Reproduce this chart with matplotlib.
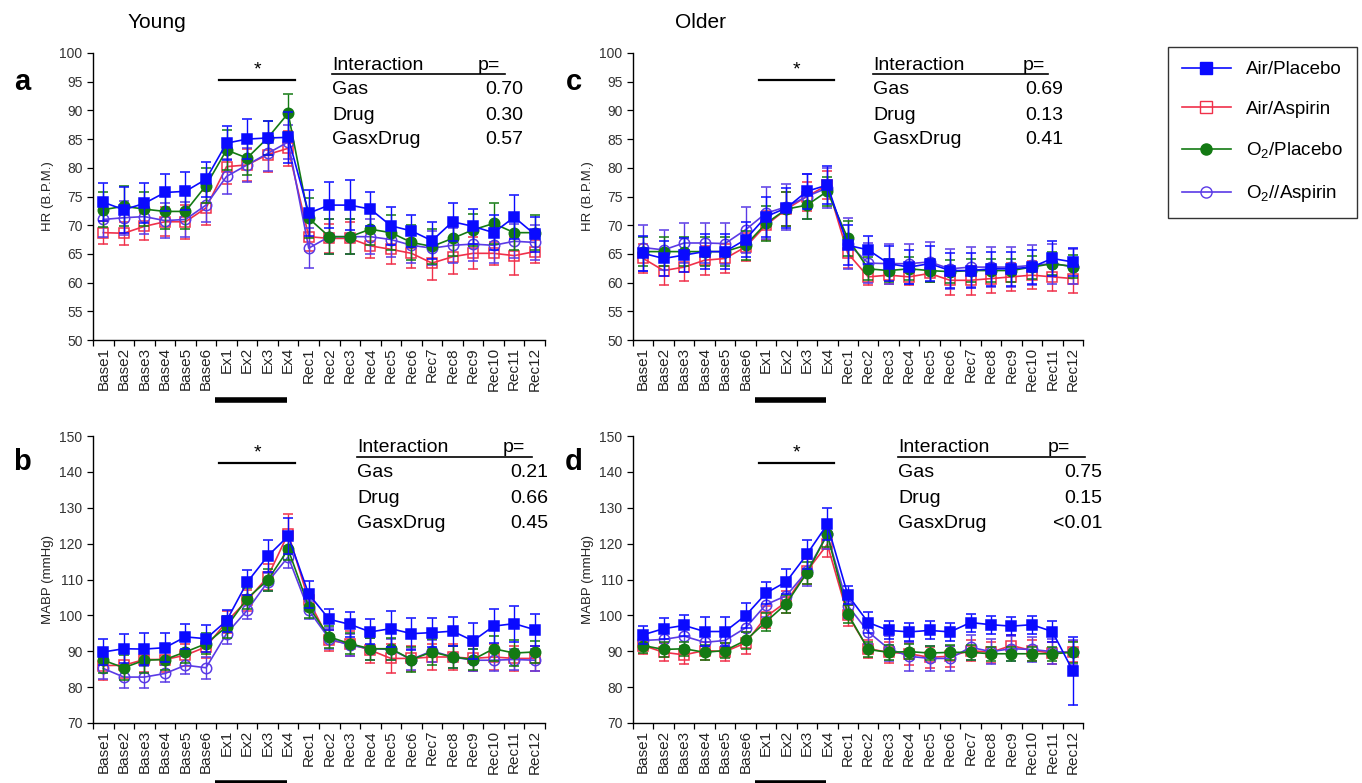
import matplotlib
matplotlib.use("Agg")
import matplotlib.pyplot as plt
from matplotlib.lines import Line2D
import numpy as np

plt.rcParams['font.family'] = ['Liberation Sans', 'DejaVu Sans']
plt.rcParams['mathtext.fontset'] = 'custom'
plt.rcParams['mathtext.rm'] = 'Liberation Sans'

categories = ['Base1', 'Base2', 'Base3', 'Base4', 'Base5', 'Base6',
              'Ex1', 'Ex2', 'Ex3', 'Ex4',
              'Rec1', 'Rec2', 'Rec3', 'Rec4', 'Rec5', 'Rec6', 'Rec7', 'Rec8',
              'Rec9', 'Rec10', 'Rec11', 'Rec12']

series_names = ['Air/Placebo', 'Air/Aspirin', r'O$_\mathregular{2}$/Placebo', r'O$_\mathregular{2}$//Aspirin']

# ---- Panel a: HR young ----
ap_a = [74.0, 72.7, 73.8, 75.7, 75.9, 78.0, 84.3, 85.0, 85.2, 85.3, 72.1, 73.5, 73.5, 72.8, 69.9, 69.0, 67.3, 70.6, 69.8, 68.7, 71.4, 68.4]
ap_a_err = [3.3, 4.0, 3.5, 3.3, 3.3, 3.0, 3.0, 3.5, 3.0, 4.5, 4.0, 4.0, 4.3, 3.0, 3.3, 2.8, 3.2, 3.3, 3.0, 3.0, 3.8, 3.0]
aa_a = [68.7, 68.6, 69.8, 70.6, 70.6, 73.0, 80.2, 80.5, 82.3, 83.4, 68.0, 67.7, 67.7, 66.4, 65.8, 65.1, 63.4, 64.5, 65.1, 65.1, 64.7, 65.4]
aa_a_err = [2.0, 2.0, 2.3, 2.5, 3.0, 3.0, 3.0, 2.8, 3.0, 3.0, 2.5, 2.5, 2.8, 2.2, 2.5, 2.5, 3.0, 3.0, 2.8, 2.0, 3.3, 2.0]
op_a = [72.7, 73.3, 72.8, 72.4, 72.4, 76.9, 83.1, 81.7, 85.2, 89.5, 71.2, 68.0, 68.0, 69.3, 68.7, 67.0, 66.3, 67.7, 69.2, 70.3, 68.7, 68.7]
op_a_err = [3.0, 3.5, 3.0, 3.0, 3.0, 3.0, 3.5, 3.0, 3.0, 3.3, 3.5, 3.0, 3.0, 2.8, 3.0, 3.0, 3.0, 3.0, 2.8, 3.5, 3.0, 3.0]
oa_a = [71.0, 71.3, 71.5, 70.8, 71.0, 73.5, 78.5, 80.5, 82.5, 84.5, 66.0, 68.0, 68.0, 68.0, 67.5, 66.5, 66.0, 66.5, 66.7, 66.5, 67.2, 67.0]
oa_a_err = [3.0, 3.0, 3.0, 3.0, 3.0, 3.0, 3.0, 3.0, 3.0, 3.0, 3.5, 3.0, 3.0, 3.0, 3.0, 3.0, 3.0, 3.0, 3.0, 3.0, 3.0, 3.0]

# ---- Panel b: MABP young ----
ap_b = [89.8, 90.7, 90.6, 91.0, 94.0, 93.5, 98.5, 109.2, 116.5, 122.1, 105.9, 98.9, 97.5, 95.4, 96.3, 94.9, 95.2, 95.6, 92.9, 97.0, 97.7, 96.0]
ap_b_err = [3.5, 4.0, 4.5, 4.0, 3.5, 3.8, 3.0, 3.5, 4.5, 5.0, 3.8, 3.0, 3.5, 3.5, 5.0, 4.5, 4.0, 4.0, 5.0, 4.8, 5.0, 4.5]
aa_b = [86.0, 86.1, 87.7, 87.7, 88.9, 91.2, 98.2, 104.2, 110.7, 122.8, 104.2, 93.0, 92.1, 90.3, 88.0, 88.0, 88.4, 88.4, 88.0, 88.4, 88.0, 88.0]
aa_b_err = [4.0, 3.5, 3.5, 3.5, 3.0, 3.0, 3.0, 3.0, 3.5, 5.5, 3.0, 3.0, 3.5, 3.5, 4.0, 3.5, 3.5, 3.5, 3.5, 3.5, 3.5, 3.5]
op_b = [87.5, 85.4, 87.5, 87.7, 89.8, 92.1, 96.8, 104.7, 109.8, 118.4, 102.4, 94.0, 92.1, 90.7, 90.7, 87.7, 89.8, 88.4, 87.7, 90.7, 89.5, 89.8]
op_b_err = [3.5, 3.5, 3.5, 3.0, 3.0, 3.0, 3.0, 3.0, 3.0, 3.0, 3.0, 3.0, 3.0, 3.0, 3.0, 3.5, 3.5, 3.0, 3.0, 3.5, 3.5, 3.0]
oa_b = [85.2, 82.8, 82.8, 83.8, 86.1, 85.4, 94.9, 101.4, 109.3, 116.3, 101.4, 93.5, 91.7, 90.7, 90.5, 87.7, 90.1, 88.4, 87.5, 87.5, 87.7, 87.5]
oa_b_err = [3.0, 3.0, 3.0, 2.5, 2.5, 3.0, 3.0, 2.5, 2.5, 3.0, 2.5, 3.0, 3.0, 3.0, 3.0, 3.0, 3.0, 3.0, 3.0, 3.0, 3.0, 3.0]

# ---- Panel c: HR older ----
ap_c = [65.1, 64.2, 64.8, 65.4, 65.4, 67.5, 71.5, 73.0, 75.9, 77.0, 66.5, 65.7, 63.3, 62.7, 63.3, 62.1, 62.1, 62.4, 62.4, 62.7, 64.2, 63.6]
ap_c_err = [3.0, 3.0, 3.0, 3.0, 3.0, 3.0, 3.5, 3.5, 3.0, 3.3, 3.5, 2.5, 3.0, 3.0, 3.0, 3.0, 3.0, 3.0, 3.0, 3.0, 3.0, 2.5]
aa_c = [64.2, 62.1, 62.7, 63.9, 64.2, 66.2, 70.0, 72.8, 75.0, 77.0, 65.1, 61.0, 61.3, 61.0, 61.6, 60.4, 60.4, 60.7, 61.0, 61.3, 61.0, 60.7]
aa_c_err = [2.5, 2.5, 2.5, 2.5, 2.5, 2.5, 2.5, 3.0, 2.5, 2.5, 2.5, 1.5, 1.5, 1.5, 1.5, 2.5, 2.5, 2.5, 2.5, 2.5, 2.5, 2.5]
op_c = [65.4, 65.4, 65.4, 65.4, 65.4, 66.5, 70.3, 72.8, 73.5, 75.9, 67.7, 62.4, 62.1, 62.4, 62.1, 61.9, 62.1, 62.1, 62.1, 62.7, 63.3, 62.8]
op_c_err = [2.5, 2.5, 2.5, 2.5, 2.5, 2.5, 3.0, 3.0, 2.5, 2.5, 3.0, 2.0, 2.0, 2.0, 2.0, 2.0, 2.0, 2.0, 2.0, 2.0, 2.0, 2.0]
oa_c = [66.1, 65.7, 66.9, 66.9, 66.8, 69.2, 72.1, 73.2, 75.0, 76.5, 66.8, 63.4, 63.3, 63.3, 63.6, 62.4, 62.7, 62.7, 62.7, 63.0, 63.3, 62.8]
oa_c_err = [4.0, 3.5, 3.5, 3.5, 3.5, 4.0, 4.5, 4.0, 4.0, 3.5, 4.5, 3.5, 3.5, 3.5, 3.5, 3.5, 3.5, 3.5, 3.5, 3.5, 3.5, 3.0]

# ---- Panel d: MABP older ----
ap_d = [94.6, 96.3, 97.2, 95.5, 95.5, 99.9, 106.2, 109.4, 117.0, 125.4, 105.7, 98.0, 95.8, 95.4, 95.8, 95.4, 98.0, 97.4, 97.0, 97.4, 95.5, 84.6]
ap_d_err = [2.5, 3.0, 3.0, 4.0, 4.0, 3.5, 3.0, 3.5, 4.0, 4.5, 2.5, 3.0, 2.5, 2.5, 2.5, 2.5, 2.5, 2.5, 2.5, 2.5, 3.0, 9.5]
aa_d = [91.6, 89.7, 89.0, 90.2, 89.9, 92.3, 99.6, 103.8, 112.3, 119.8, 100.0, 90.7, 89.7, 89.3, 88.3, 88.6, 90.2, 89.7, 91.6, 90.2, 89.5, 89.9]
aa_d_err = [2.5, 2.5, 2.5, 2.5, 2.5, 3.0, 3.0, 3.0, 3.5, 3.5, 3.0, 2.5, 3.0, 3.0, 3.0, 3.0, 3.0, 3.0, 3.0, 3.0, 3.0, 3.0]
op_d = [91.6, 90.5, 90.7, 89.7, 90.2, 93.0, 98.2, 103.3, 111.8, 122.6, 100.5, 90.5, 89.7, 89.9, 89.5, 89.7, 89.7, 89.3, 89.3, 89.3, 89.3, 89.7]
op_d_err = [2.0, 2.0, 2.0, 2.0, 2.0, 2.5, 2.5, 2.5, 3.0, 3.5, 2.5, 2.0, 2.0, 2.0, 2.0, 2.0, 2.0, 2.0, 2.0, 2.0, 2.0, 3.0]
oa_d = [93.0, 93.3, 94.2, 92.5, 93.0, 96.5, 103.0, 105.5, 112.3, 122.6, 102.7, 95.4, 90.7, 88.6, 88.0, 88.0, 91.1, 89.9, 90.7, 90.5, 89.9, 89.7]
oa_d_err = [2.5, 3.0, 3.0, 3.0, 3.0, 3.0, 3.5, 3.5, 4.0, 4.0, 3.5, 3.5, 3.5, 4.0, 3.5, 3.5, 3.5, 3.5, 3.5, 3.5, 3.5, 3.5]

stats_a = [('Gas', '0.70'), ('Drug', '0.30'), ('GasxDrug', '0.57')]
stats_b = [('Gas', '0.21'), ('Drug', '0.66'), ('GasxDrug', '0.45')]
stats_c = [('Gas', '0.69'), ('Drug', '0.13'), ('GasxDrug', '0.41')]
stats_d = [('Gas', '0.75'), ('Drug', '0.15'), ('GasxDrug', '<0.01')]

colors = ['#0a0aff', '#f0304a', '#137a13', '#5a3ae6']
markers = ['s', 's', 'o', 'o']
faces = ['#0a0aff', 'none', '#137a13', 'none']
zorders = [6, 3, 5, 4]

W, H = 1362, 783
fig = plt.figure(figsize=(W / 100, H / 100), dpi=100)


def ax_rect(left, top, right, bottom):
    return [left / W, 1 - bottom / H, (right - left) / W, (bottom - top) / H]


def draw_panel(rect, series, errs, ylim, ystep, ylabel, stats, tx, ty, val_x, p_x, line_end):
    ax = fig.add_axes(rect)
    x = np.arange(len(categories))
    for i, (vals, er) in enumerate(zip(series, errs)):
        ax.errorbar(x, vals, yerr=er, color=colors[i], marker=markers[i],
                    markerfacecolor=faces[i], markeredgecolor=colors[i],
                    markersize=7.5, markeredgewidth=1.1, linewidth=1.2,
                    elinewidth=1.0, capsize=3.5, capthick=1.0, zorder=zorders[i])
    ax.set_xlim(-0.5, len(categories) - 0.5)
    ax.set_ylim(*ylim)
    ax.set_yticks(np.arange(ylim[0], ylim[1] + 0.1, ystep))
    ax.set_xticks(np.arange(-0.5, len(categories), 1.0))
    ax.set_xticklabels([])
    ax.set_xticks(x, minor=True)
    ax.set_xticklabels(categories, minor=True, rotation=90, fontsize=11, color='#222222',
                       family=['Liberation Sans Narrow', 'Liberation Sans', 'DejaVu Sans'])
    ax.tick_params(axis='x', which='minor', length=0, pad=5)
    ax.tick_params(axis='x', which='major', length=4, width=0.9, direction='out')
    ax.tick_params(axis='y', length=4, width=0.9, labelsize=10, labelcolor='#333333')
    for s in ['top', 'right']:
        ax.spines[s].set_visible(False)
    for s in ['left', 'bottom']:
        ax.spines[s].set_linewidth(1.0)
    ax.set_ylabel(ylabel, fontsize=9.5, color='#222222', labelpad=4)
    # significance bar
    span = ylim[1] - ylim[0]
    ax.plot([5.65, 9.35], [ylim[0] + span * 0.905] * 2, color='black', lw=1.6, clip_on=False)
    ax.text(7.5, ylim[0] + span * 0.94, '*', ha='center', va='center', fontsize=14)
    # exercise bar below labels
    ax.plot([5.45, 8.95], [-0.21, -0.21], color='black', lw=4,
            transform=ax.get_xaxis_transform(), clip_on=False, solid_capstyle='butt')
    # stats table (figure pixel coords)
    fs = 14
    fig.text(tx / W, 1 - ty / H, 'Interaction', fontsize=fs, va='center', ha='left')
    fig.text(p_x / W, 1 - ty / H, 'p=', fontsize=fs, va='center', ha='left')
    fig.add_artist(Line2D([tx / W, line_end / W], [1 - (ty + 9) / H] * 2, color='black', lw=1.2))
    for k, (name, val) in enumerate(stats):
        yy = 1 - (ty + 25 * (k + 1)) / H
        fig.text(tx / W, yy, name, fontsize=fs, va='center', ha='left')
        fig.text(val_x / W, yy, val, fontsize=fs, va='center', ha='right')
    return ax


draw_panel(ax_rect(93, 53, 545, 340), [ap_a, aa_a, op_a, oa_a],
           [ap_a_err, aa_a_err, op_a_err, oa_a_err], (50, 100), 5, 'HR (B.P.M.)',
           stats_a, 332, 65, 523, 478, 505)
draw_panel(ax_rect(93, 436, 545, 723), [ap_b, aa_b, op_b, oa_b],
           [ap_b_err, aa_b_err, op_b_err, oa_b_err], (70, 150), 10, 'MABP (mmHg)',
           stats_b, 357, 448, 548, 503, 532)
draw_panel(ax_rect(633, 53, 1083, 340), [ap_c, aa_c, op_c, oa_c],
           [ap_c_err, aa_c_err, op_c_err, oa_c_err], (50, 100), 5, 'HR (B.P.M.)',
           stats_c, 873, 65, 1063, 1023, 1048)
draw_panel(ax_rect(633, 436, 1083, 723), [ap_d, aa_d, op_d, oa_d],
           [ap_d_err, aa_d_err, op_d_err, oa_d_err], (70, 150), 10, 'MABP (mmHg)',
           stats_d, 898, 448, 1102, 1048, 1085)

# panel letters and titles
for letter, px, py in [('a', 22, 82), ('b', 22, 462), ('c', 574, 82), ('d', 574, 462)]:
    fig.text(px / W, 1 - py / H, letter, fontsize=21, fontweight='bold', ha='center', va='center')
fig.text(157 / W, 1 - 22 / H, 'Young', fontsize=15, ha='center', va='center')
fig.text(700 / W, 1 - 22 / H, 'Older', fontsize=15, ha='center', va='center')

# legend
handles = []
for i in range(4):
    handles.append(Line2D([0], [0], color=colors[i], marker=markers[i], markerfacecolor=faces[i],
                          markeredgecolor=colors[i], markersize=8, lw=1.2))
leg = fig.legend(handles, series_names, loc='upper left',
                 bbox_to_anchor=(1168 / W, 1 - 47 / H), fontsize=13.5,
                 frameon=True, fancybox=False, edgecolor='black', labelspacing=1.2,
                 handlelength=2.6, borderpad=0.75, handletextpad=0.8, borderaxespad=0)
leg.get_frame().set_linewidth(1.0)

fig.savefig('out.png', dpi=100, facecolor='white')
